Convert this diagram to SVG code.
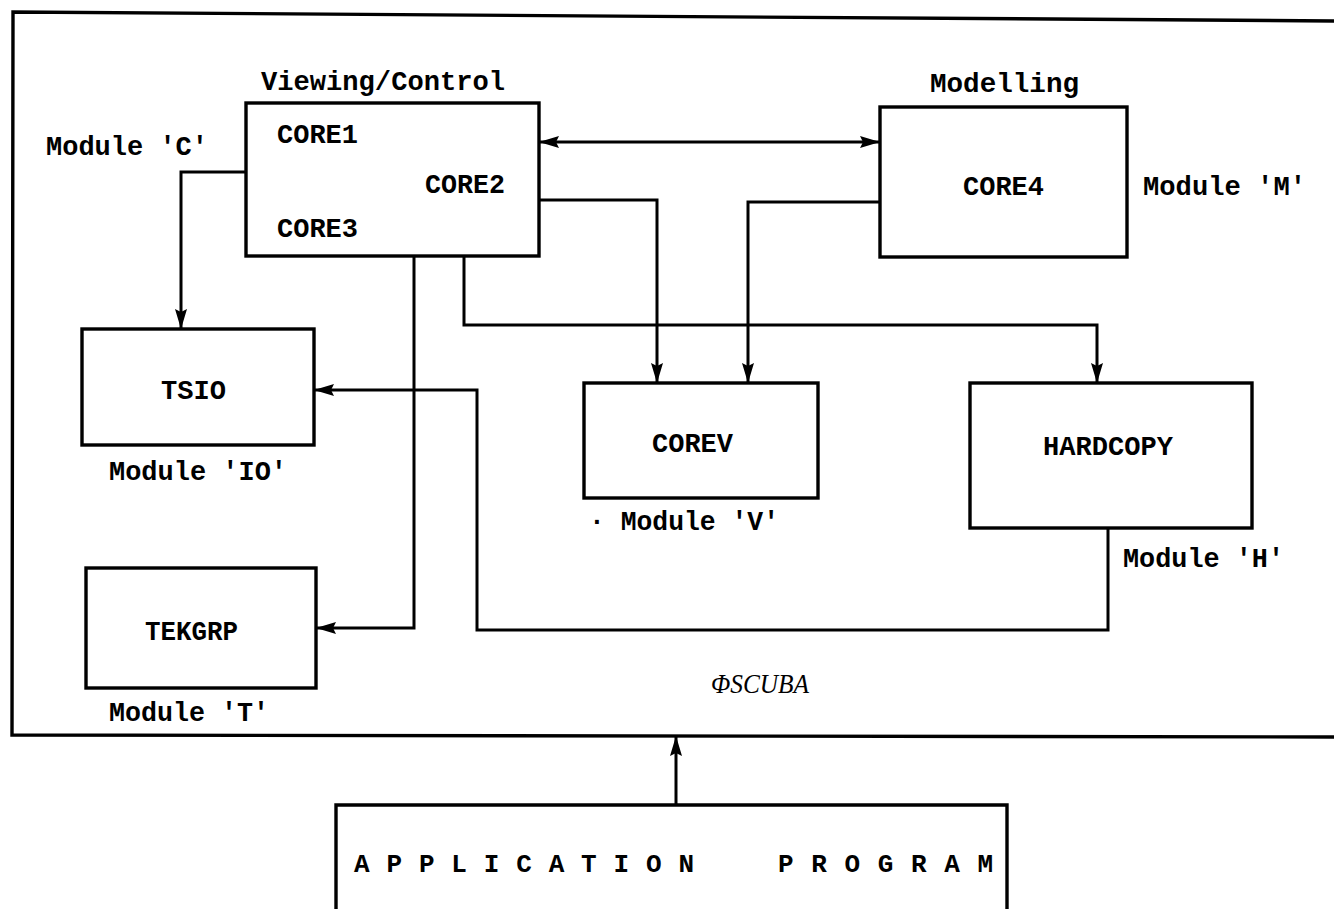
<svg xmlns="http://www.w3.org/2000/svg" width="1334" height="909" viewBox="0 0 1334 909">
<style>
.box{fill:none;stroke:#000;stroke-width:3.4;stroke-linejoin:miter}
.ln{fill:none;stroke:#000;stroke-width:3;stroke-linejoin:miter}
.tw{font-family:"Liberation Mono","Courier New",monospace;font-weight:bold;font-size:28px;fill:#000}
.bl{font-family:"Liberation Mono","Courier New",monospace;font-weight:bold;font-size:28px;fill:#000}
.it{font-family:"Liberation Serif","Times New Roman",serif;font-style:italic;font-size:28px;fill:#000}
.ap{font-family:"Liberation Mono","Courier New",monospace;font-weight:bold;font-size:26px;fill:#000}
</style>
<defs>
<marker id="ah" markerUnits="userSpaceOnUse" markerWidth="22" markerHeight="14" refX="20" refY="7" orient="auto-start-reverse">
<path d="M0,1 L20,7 L0,13 L3,7 z" fill="#000"/>
</marker>
</defs>
<rect x="0" y="0" width="1334" height="909" fill="#fff"/>
<g id="frame">
<path class="box" d="M1340,21 L13,12 L12,735 L1340,737" stroke-width="3.8"/>
<text class="it" x="711" y="693" textLength="98" lengthAdjust="spacingAndGlyphs">ΦSCUBA</text>
</g>
<g id="viewing-control">
<rect class="box" x="246" y="103" width="293" height="153"/>
<text class="tw" x="261" y="90" textLength="244" lengthAdjust="spacingAndGlyphs">Viewing/Control</text>
<text class="tw" x="46" y="155" textLength="162" lengthAdjust="spacingAndGlyphs">Module 'C'</text>
<text class="bl" x="277" y="143" textLength="81" lengthAdjust="spacingAndGlyphs">CORE1</text>
<text class="bl" x="425" y="193" textLength="80" lengthAdjust="spacingAndGlyphs">CORE2</text>
<text class="bl" x="277" y="237" textLength="81" lengthAdjust="spacingAndGlyphs">CORE3</text>
</g>
<g id="modelling">
<rect class="box" x="880" y="107" width="247" height="150"/>
<text class="tw" x="930" y="92" textLength="149" lengthAdjust="spacingAndGlyphs">Modelling</text>
<text class="bl" x="963" y="195" textLength="81" lengthAdjust="spacingAndGlyphs">CORE4</text>
<text class="tw" x="1143" y="195" textLength="163" lengthAdjust="spacingAndGlyphs">Module 'M'</text>
</g>
<g id="tsio">
<rect class="box" x="82" y="329" width="232" height="116"/>
<text class="bl" x="161" y="399" textLength="65" lengthAdjust="spacingAndGlyphs">TSIO</text>
<text class="tw" x="109" y="480" textLength="178" lengthAdjust="spacingAndGlyphs">Module 'IO'</text>
</g>
<g id="tekgrp">
<rect class="box" x="86" y="568" width="230" height="120"/>
<text class="bl" x="145" y="640" textLength="93" lengthAdjust="spacingAndGlyphs">TEKGRP</text>
<text class="tw" x="109" y="721" textLength="160" lengthAdjust="spacingAndGlyphs">Module 'T'</text>
</g>
<g id="corev">
<rect class="box" x="584" y="383" width="234" height="115"/>
<text class="bl" x="652" y="452" textLength="81" lengthAdjust="spacingAndGlyphs">COREV</text>
<text class="tw" x="589" y="530" textLength="190" lengthAdjust="spacingAndGlyphs">· Module 'V'</text>
</g>
<g id="hardcopy">
<rect class="box" x="970" y="383" width="282" height="145"/>
<text class="bl" x="1043" y="455" textLength="130" lengthAdjust="spacingAndGlyphs">HARDCOPY</text>
<text class="tw" x="1123" y="567" textLength="161" lengthAdjust="spacingAndGlyphs">Module 'H'</text>
</g>
<g id="application-program">
<path class="box" d="M336,912 V805 H1007 V912"/>
<text class="ap" x="354" y="872" textLength="340">A P P L I C A T I O N</text>
<text class="ap" x="778" y="872" textLength="215">P R O G R A M</text>
</g>
<g id="connectors">
<path class="ln" d="M539,142 H880" marker-start="url(#ah)" marker-end="url(#ah)"/>
<path class="ln" d="M246,172 H181 V329" marker-end="url(#ah)"/>
<path class="ln" d="M539,200 H657 V383" marker-end="url(#ah)"/>
<path class="ln" d="M880,202 H748 V383" marker-end="url(#ah)"/>
<path class="ln" d="M464,256 V325 H1097 V383" marker-end="url(#ah)"/>
<path class="ln" d="M414,256 V628 H316" marker-end="url(#ah)"/>
<path class="ln" d="M1108,528 V630 H477 V390 H314" marker-end="url(#ah)"/>
<path class="ln" d="M676,805 V736" marker-end="url(#ah)"/>
</g>
</svg>
